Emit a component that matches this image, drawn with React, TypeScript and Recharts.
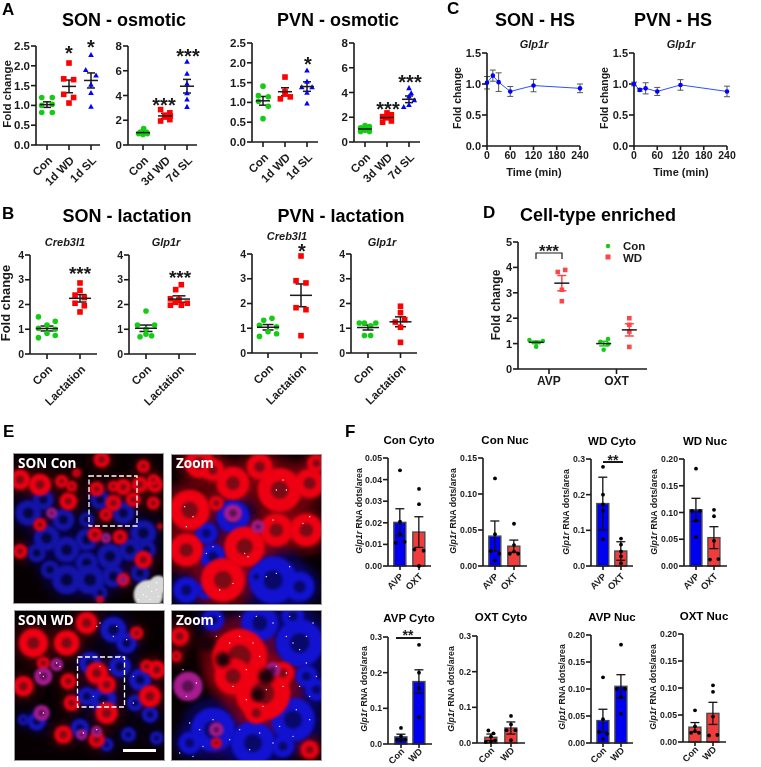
import React from 'react'
import {
  ScatterChart,
  ComposedChart,
  LineChart,
  Scatter,
  Bar,
  Line,
  XAxis,
  YAxis,
  ErrorBar
} from 'recharts'

const FONT = '"Liberation Sans", Arial, sans-serif'
const INK = '#1a1a1a'
const GREEN = '#14cc14'
const RED = '#ff0000'
const BLUE = '#0000ff'
const SOFT_RED = '#ff4545'
const BAR_BLUE = '#0000f0'
const BAR_RED = '#f23c3c'

// panel A, offsets from the group centre + value
const a1Con = [[-0.24, 1.2], [0.24, 1.2], [-0.24, 1.0], [0.24, 1.03], [-0.24, 0.82], [0.24, 0.82]]
const a1Wd = [[0, 2.07], [-0.24, 1.67], [0.21, 1.65], [-0.24, 1.28], [0.21, 1.2], [0, 1.06]]
const a1Sl = [[0, 2.28], [-0.24, 1.9], [0.23, 1.76], [0, 1.53], [0, 1.32], [0, 0.97]]
const a1Mean = [1.02, 1.48, 1.63]
const a1Sem = [0.07, 0.16, 0.19]

const a2Con = [[-0.2, 0.92], [0.2, 0.92], [0.03, 1.32], [-0.12, 1.05], [0.15, 1.05], [0, 0.85]]
const a2Wd = [[-0.2, 2.86], [0.22, 2.6], [-0.2, 1.94], [0.22, 2.05], [0, 2.4], [0, 2.26], [0.24, 2.35]]
const a2Sl = [[0, 6.74], [0, 5.77], [0, 4.96], [0, 4.2], [0, 3.7], [0, 3.1]]
const a2Mean = [1.0, 2.35, 4.75]
const a2Sem = [0.07, 0.2, 0.55]

const a3Con = [[0, 1.41], [-0.21, 1.17], [0.24, 1.14], [-0.21, 1.03], [0.24, 0.9], [0, 0.59]]
const a3Wd = [[0, 1.64], [-0.21, 1.09], [0, 1.21], [0.24, 1.14], [0, 1.28]]
const a3Sl = [[0, 1.81], [0, 1.53], [-0.24, 1.39], [0.23, 1.39], [0, 1.25], [0, 0.98]]
const a3Mean = [1.04, 1.27, 1.4]
const a3Sem = [0.11, 0.1, 0.12]

const a4Con = [[-0.2, 0.85], [0.2, 0.85], [-0.2, 1.15], [0.2, 1.25], [0, 1.33], [0, 0.95]]
const a4Wd = [[-0.2, 1.6], [0.2, 1.7], [-0.2, 2.05], [0.2, 2.2], [0, 2.35], [0, 1.95]]
const a4Sl = [[0, 4.37], [-0.24, 2.85], [0, 3.7], [0.1, 3.95], [0.24, 3.4], [0, 3.0]]
const a4Mean = [1.05, 1.97, 3.45]
const a4Sem = [0.07, 0.12, 0.27]

// panel B
const b1Con = [[-0.26, 1.5], [0.25, 1.32], [0, 1.17], [-0.26, 1.04], [0.25, 1.0], [0, 0.84], [0.25, 0.75], [-0.26, 0.66]]
const b1Lac = [[0, 2.87], [0, 2.57], [-0.15, 2.38], [0.13, 2.28], [-0.15, 2.05], [0.13, 1.95], [0, 1.7]]
const b1Mean = [1.03, 2.25]
const b1Sem = [0.1, 0.15]

const b2Con = [[0, 1.74], [-0.26, 1.17], [0.26, 1.17], [0, 1.0], [-0.18, 0.7], [0.17, 0.74], [0, 0.8]]
const b2Lac = [[0.07, 2.8], [-0.1, 2.6], [-0.26, 2.23], [-0.26, 1.97], [-0.1, 2.09], [0.07, 1.97], [0.25, 2.05], [0, 2.2]]
const b2Mean = [1.04, 2.22]
const b2Sem = [0.13, 0.13]

const b3Con = [[0.12, 1.4], [-0.13, 1.32], [-0.26, 1.12], [0.26, 0.78], [0, 0.86], [-0.26, 0.67], [0.26, 1.06]]
const b3Lac = [[0, 3.92], [-0.15, 2.92], [0.15, 2.83], [-0.15, 1.83], [0.15, 1.75], [0, 0.7]]
const b3Mean = [1.04, 2.33]
const b3Sem = [0.11, 0.46]

const b4Con = [[-0.27, 1.21], [-0.11, 1.21], [0.24, 1.21], [0.08, 1.1], [-0.11, 0.71], [0.08, 0.71]]
const b4Lac = [[0, 1.89], [0, 1.63], [-0.16, 1.25], [0.13, 1.35], [0, 1.04], [0, 0.43]]
const b4Mean = [1.03, 1.26]
const b4Sem = [0.1, 0.2]

// panel C
const hsMinutes = [0, 15, 30, 60, 120, 240]
const sonHs = [1.02, 1.135, 1.03, 0.88, 0.975, 0.93]
const sonHsErr = [0.1, 0.09, 0.15, 0.08, 0.1, 0.07]
const pvnHs = [1.0, 0.905, 0.93, 0.88, 0.985, 0.88]
const pvnHsErr = [0.03, 0.02, 0.09, 0.065, 0.085, 0.085]

// panel D
const dConAvp = [[-0.1, 1.14], [0, 0.88], [0, 1.04], [0.1, 1.1]]
const dWdAvp = [[-0.06, 3.82], [0.05, 3.9], [0, 3.12], [0, 2.67]]
const dConOxt = [[-0.05, 1.07], [0.065, 1.18], [0.065, 0.97], [0, 0.76]]
const dWdOxt = [[0, 2.0], [0, 1.74], [0, 1.47], [0, 0.87]]
const dMean = [1.05, 3.38, 1.0, 1.54]
const dSem = [0.05, 0.3, 0.09, 0.24]

// panel F, bars
const conCytoMean = [0.0202, 0.0157]
const conCytoErr = [0.0063, 0.0071]
const conCytoAvp = [[0, 0.0443], [0, 0.0205], [0, 0.0148], [-0.22, 0.0107], [0.24, 0.0112]]
const conCytoOxt = [[0, 0.0357], [0, 0.0286], [-0.24, 0.0076], [0.24, 0.0071], [0, 0]]

const conNucMean = [0.0415, 0.0275]
const conNucErr = [0.021, 0.0085]
const conNucAvp = [[0, 0.1216], [0, 0.0442], [-0.22, 0.0205], [0.22, 0.017], [0, 0.0075]]
const conNucOxt = [[0, 0.0587], [0, 0.029], [-0.22, 0.017], [0, 0.02], [0.22, 0.017]]

const wdCytoMean = [0.175, 0.042]
const wdCytoErr = [0.074, 0.026]
const wdCytoAvp = [[0, 0.278], [0, 0.2], [0, 0.173], [0, 0.155], [0, 0.075]]
const wdCytoOxt = [[0, 0.077], [0, 0.06], [0, 0.041], [0, 0.027], [0, 0.008]]

const wdNucMean = [0.105, 0.053]
const wdNucErr = [0.0215, 0.0205]
const wdNucAvp = [[0, 0.182], [-0.22, 0.103], [0.22, 0.103], [0, 0.085], [0, 0.054]]
const wdNucOxt = [[0, 0.105], [0, 0.093], [0, 0.047], [-0.22, 0.012], [0.24, 0.013]]

const avpCytoMean = [0.02, 0.175]
const avpCytoErr = [0.0075, 0.033]
const avpCytoCon = [[0, 0.045], [-0.22, 0.012], [0.24, 0.012], [0, 0.022], [0, 0.01]]
const avpCytoWd = [[0, 0.278], [0, 0.2], [0, 0.157], [0, 0.075]]

const oxtCytoMean = [0.016, 0.042]
const oxtCytoErr = [0.009, 0.017]
const oxtCytoCon = [[-0.13, 0.035], [0.12, 0.027], [0, 0.018], [-0.26, 0.003], [0, 0.004], [0.2, 0.007]]
const oxtCytoWd = [[0, 0.076], [0, 0.052], [-0.22, 0.036], [0.22, 0.036], [0, 0.008]]

const avpNucMean = [0.0415, 0.105]
const avpNucErr = [0.021, 0.0215]
const avpNucCon = [[0, 0.1216], [0, 0.0442], [-0.22, 0.0205], [0.22, 0.017], [0, 0.0075]]
const avpNucWd = [[0, 0.182], [-0.22, 0.1], [0.22, 0.1], [0, 0.085], [0, 0.054]]

const oxtNucMean = [0.0275, 0.053]
const oxtNucErr = [0.0085, 0.0205]
const oxtNucCon = [[0, 0.0587], [0, 0.029], [-0.22, 0.017], [0, 0.02], [0.22, 0.017]]
const oxtNucWd = [[0, 0.105], [0, 0.093], [0, 0.047], [-0.22, 0.012], [0.24, 0.013]]

// panel E, cell blobs in crop pixels: x, y, radius
const e1Red = [[60, 210, 28], [120, 225, 30], [185, 215, 18], [230, 190, 12], [305, 150, 22], [370, 232, 22], [420, 225, 22], [465, 225, 22], [430, 170, 18], [290, 238, 20], [340, 280, 22], [318, 315, 18], [285, 375, 20], [360, 382, 20], [205, 275, 24], [120, 345, 18], [60, 425, 20], [430, 450, 24], [370, 510, 18], [300, 570, 10], [400, 270, 20], [460, 280, 18], [340, 230, 15], [480, 350, 8], [215, 230, 15], [460, 210, 15]]
const e1Blue = [[85, 310, 35], [130, 270, 28], [190, 330, 30], [140, 385, 35], [200, 420, 35], [260, 390, 30], [300, 270, 26], [370, 310, 30], [430, 370, 35], [330, 440, 35], [260, 460, 30], [200, 510, 40], [270, 510, 40], [340, 500, 30], [420, 490, 25], [110, 430, 25], [440, 420, 25], [150, 480, 25], [260, 330, 20], [390, 420, 30], [300, 550, 20]]
const e1Pink = [[155, 310, 15], [318, 385, 14], [370, 510, 10]]
const e1Dots = [[445, 530], [455, 545], [430, 555], [470, 520], [415, 570], [450, 570], [475, 560], [470, 540], [440, 560]]
const e1White = [[445, 555, 40], [475, 525, 25]]

const e2Red = [[570, 300, 55], [600, 160, 40], [700, 220, 45], [840, 240, 60], [930, 220, 40], [830, 360, 45], [920, 360, 45], [560, 420, 45], [735, 410, 55], [670, 510, 60], [640, 180, 30], [950, 160, 25], [780, 170, 35], [650, 280, 20]]
const e2Blue = [[640, 440, 35], [700, 320, 45], [620, 370, 30], [820, 510, 65], [900, 530, 40], [560, 540, 35], [770, 500, 20], [620, 540, 25]]
const e2Pink = [[700, 310, 25], [775, 350, 18]]
const e2Dots = [[555, 290], [580, 320], [830, 240], [860, 240], [850, 210], [820, 330], [910, 340], [930, 320], [620, 430], [640, 410], [735, 430], [745, 440], [800, 500], [830, 490], [870, 470], [660, 540], [700, 520], [560, 350]]

const e3Red = [[100, 700, 40], [200, 700, 35], [260, 640, 30], [70, 830, 28], [205, 815, 22], [215, 880, 22], [290, 790, 30], [320, 825, 25], [450, 860, 30], [470, 780, 25], [410, 670, 18], [190, 975, 25], [290, 990, 22], [440, 770, 18], [320, 910, 30], [130, 760, 18]]
const e3Blue = [[340, 660, 35], [380, 700, 28], [270, 760, 30], [360, 770, 30], [420, 810, 30], [310, 870, 35], [405, 880, 22], [450, 915, 22], [110, 935, 25], [385, 975, 20], [320, 1005, 18], [470, 985, 18], [260, 860, 25], [70, 930, 15], [240, 955, 25]]
const e3Pink = [[130, 800, 25], [170, 765, 18], [125, 910, 22], [245, 975, 15], [290, 965, 15]]
const e3Dots = [[290, 650], [300, 640], [340, 680], [380, 690], [350, 650], [170, 760], [130, 800], [120, 790], [300, 770], [330, 780], [400, 800], [280, 860], [310, 880], [130, 910], [250, 970], [290, 960], [400, 880], [360, 740], [180, 770]]

const e4Red = [[720, 740, 75], [790, 850, 75], [700, 800, 50], [850, 790, 30], [540, 680, 25], [770, 910, 30], [930, 1020, 25], [650, 1000, 15], [530, 740, 15]]
const e4Blue = [[640, 960, 60], [760, 1000, 60], [880, 930, 60], [900, 700, 65], [780, 640, 50], [640, 630, 30], [950, 840, 30], [850, 1010, 30], [570, 1000, 30], [920, 800, 30], [880, 620, 30]]
const e4Pink = [[565, 830, 40], [650, 960, 20], [820, 780, 20]]
const e4Dark = [[670, 750, 20], [800, 800, 22], [775, 855, 18], [620, 700, 22]]
const e4Dots = [[650, 680], [690, 700], [720, 680], [760, 700], [780, 740], [740, 780], [700, 830], [830, 770], [860, 790], [850, 830], [800, 840], [740, 870], [790, 890], [860, 680], [880, 700], [900, 720], [920, 680], [940, 640], [820, 640], [770, 620], [870, 620], [920, 760], [950, 800], [930, 860], [890, 900], [840, 950], [780, 970], [720, 960], [690, 990], [640, 930], [600, 960], [570, 940], [610, 1010], [750, 1020], [820, 1000], [880, 980], [930, 930], [550, 780], [590, 820], [560, 860], [540, 1030], [580, 1040], [660, 620], [720, 620], [900, 830]]

const toPoints = (centre: number, rows: number[][]) =>
  rows.map(([offset, value]) => ({ x: centre + offset, y: value }))
const toBlobs = (rows: number[][]) => rows.map(([x, y, r]) => ({ x, y, r: r || 1 }))

const markerShape = (kind: string, color: string, size: number) => (props: any) => {
  const { cx, cy } = props
  if (kind === 'circle') return <circle cx={cx} cy={cy} r={size} fill={color} />
  if (kind === 'square') return <rect x={cx - size} y={cy - size} width={size * 2} height={size * 2} fill={color} />
  return <polygon points={`${cx},${cy - size} ${cx + size},${cy + size * 0.8} ${cx - size},${cy + size * 0.8}`} fill={color} />
}

const meanShape = (half: number) => (props: any) => (
  <line x1={props.cx - half} x2={props.cx + half} y1={props.cy} y2={props.cy} stroke={INK} strokeWidth={1.5} />
)

const angledTick = (labels: string[], fontSize: number, dx: number, dy: number) => (props: any) => {
  const { x, y, payload } = props
  const px = x + dx
  const py = y + dy
  return (
    <text x={px} y={py} textAnchor='end' fontSize={fontSize} fontWeight='bold' fontFamily={FONT} fill={INK}
      transform={`rotate(-45 ${px} ${py})`}>
      {labels[Math.round(payload.value)]}
    </text>
  )
}

const AXIS_W = 60
const AXIS_H = 62
const PAD = 10

interface FrameBox { x0: number; x1: number; top: number; bottom: number }

const wrapStyle = (b: FrameBox): React.CSSProperties => ({
  position: 'absolute',
  left: b.x0 - AXIS_W,
  top: b.top - PAD
})
const sizeOf = (b: FrameBox) => ({
  width: b.x1 - b.x0 + AXIS_W + PAD,
  height: b.bottom - b.top + AXIS_H + PAD
})
const chartMargin = { top: PAD, right: PAD, left: 0, bottom: 0 }
const axisProps = {
  axisLine: { stroke: INK, strokeWidth: 1.6 },
  tickLine: { stroke: INK, strokeWidth: 1.6 },
  interval: 0 as const
}

interface Group { at: number; rows: number[][]; mean: number; sem: number; kind: string; color: string; errColor?: string }

const DotPlot = ({ box, c0, unit, labels, groups, yMax, yTicks, digits, fontSize = 11.5, meanHalf = 7, cap = 4, size = 2.8, tickFont = 11.5, angled = true }: any) => {
  const { width, height } = sizeOf(box)
  const xDomain = [(box.x0 - c0) / unit, (box.x1 - c0) / unit]
  return (
    <div style={wrapStyle(box)}>
      <ScatterChart width={width} height={height} margin={chartMargin}>
        <XAxis
          type='number'
          dataKey='x'
          domain={xDomain}
          ticks={labels.map((_: string, i: number) => i)}
          tickSize={5}
          height={AXIS_H}
          {...axisProps}
          tick={angled
            ? angledTick(labels, tickFont, 6, 9)
            : { fontSize: tickFont, fontWeight: 'bold', fontFamily: FONT, fill: INK }}
          tickFormatter={(v: number) => labels[Math.round(v)]}
        />
        <YAxis
          type='number'
          dataKey='y'
          domain={[0, yMax]}
          ticks={yTicks}
          width={AXIS_W}
          tickSize={5}
          tickMargin={1}
          {...axisProps}
          tick={{ fontSize, fontWeight: 'bold', fontFamily: FONT, fill: INK }}
          tickFormatter={(v: number) => v.toFixed(digits)}
        />
        {groups.map((g: Group, i: number) => (
          <Scatter key={`p${i}`} data={toPoints(g.at, g.rows)} isAnimationActive={false} shape={markerShape(g.kind, g.color, size)} />
        ))}
        {groups.map((g: Group, i: number) => (
          <Scatter key={`m${i}`} data={[{ x: g.at, y: g.mean, err: g.sem }]} isAnimationActive={false} shape={meanShape(meanHalf)}>
            <ErrorBar dataKey='err' direction='y' width={cap} stroke={g.errColor || INK} strokeWidth={1.5} isAnimationActive={false} />
          </Scatter>
        ))}
      </ScatterChart>
    </div>
  )
}

const threeGroups = (rows: number[][][], mean: number[], sem: number[]): Group[] => {
  const kinds = ['circle', 'square', 'triangle']
  const colors = [GREEN, RED, BLUE]
  return rows.map((r, i) => ({ at: i, rows: r, mean: mean[i], sem: sem[i], kind: kinds[i], color: colors[i] }))
}

const osmoticLabelsA = ['Con', '1d WD', '1d SL']
const osmoticLabelsB = ['Con', '3d WD', '7d SL']
const lactationLabels = ['Con', 'Lactation']
const cellLabels = ['AVP', 'OXT']
const barLabelsCell = ['AVP', 'OXT']
const barLabelsTreat = ['Con', 'WD']

const TimePlot = ({ box, values, errors }: any) => {
  const { width, height } = sizeOf(box)
  const data = hsMinutes.map((m, i) => ({ x: m, y: values[i], err: errors[i] }))
  return (
    <div style={wrapStyle(box)}>
      <LineChart width={width} height={height} margin={chartMargin} data={data}>
        <XAxis type='number' dataKey='x' domain={[0, 240]} ticks={[0, 60, 120, 180, 240]} tickSize={4} height={AXIS_H}
          {...axisProps} tick={{ fontSize: 10.5, fontWeight: 'bold', fontFamily: FONT, fill: INK }} />
        <YAxis type='number' domain={[0, 1.5]} ticks={[0, 0.5, 1, 1.5]} width={AXIS_W} tickSize={5} tickMargin={1}
          {...axisProps} tick={{ fontSize: 11, fontWeight: 'bold', fontFamily: FONT, fill: INK }}
          tickFormatter={(v: number) => v.toFixed(1)} />
        <Line dataKey='y' stroke='#3050ff' strokeWidth={1} isAnimationActive={false}
          dot={(p: any) => <circle key={p.index} cx={p.cx} cy={p.cy} r={2.3} fill={BLUE} />}>
          <ErrorBar dataKey='err' direction='y' width={3} stroke='#555' strokeWidth={1} isAnimationActive={false} />
        </Line>
      </LineChart>
    </div>
  )
}

const barShape = (colors: string[]) => (props: any) => {
  const { x, y, width, height, index } = props
  const mid = x + width / 2
  return <rect x={mid - 6} y={y} width={12} height={height} fill={colors[index]} stroke='#4a4a4a' strokeWidth={1.4} />
}

const BarPlot = ({ box, c0, c1, labels, mean, err, rows, yMax, yTicks, digits, colors, tickFont = 9.3, tickDy = 5 }: any) => {
  const { width, height } = sizeOf(box)
  const unit = c1 - c0
  const xDomain = [(box.x0 - c0) / unit, (box.x1 - c0) / unit]
  const data = mean.map((m: number, i: number) => ({ x: i, y: m, err: err[i] }))
  return (
    <div style={wrapStyle(box)}>
      <ComposedChart width={width} height={height} margin={chartMargin} data={data}>
        <XAxis type='number' dataKey='x' domain={xDomain} ticks={[0, 1]} tickSize={4} height={AXIS_H}
          {...axisProps} tick={angledTick(labels, tickFont, 4, tickDy)} />
        <YAxis type='number' dataKey='y' domain={[0, yMax]} ticks={yTicks} width={AXIS_W} tickSize={5} tickMargin={1}
          {...axisProps} tick={{ fontSize: 8.7, fontWeight: 'bold', fontFamily: FONT, fill: INK }}
          tickFormatter={(v: number) => v.toFixed(digits)} />
        <Bar dataKey='y' isAnimationActive={false} shape={barShape(colors)}>
          <ErrorBar dataKey='err' direction='y' width={4.5} stroke='#111' strokeWidth={1.3} isAnimationActive={false} />
        </Bar>
        {rows.map((r: number[][], i: number) => (
          <Scatter key={i} data={toPoints(i, r)} isAnimationActive={false} shape={markerShape('circle', '#000', 1.9)} />
        ))}
      </ComposedChart>
    </div>
  )
}

const blobShape = (color: string, core: string | null, blur: number) => (props: any) => {
  const { cx, cy, payload } = props
  const r = payload.r / 3
  return (
    <g style={{ filter: `blur(${blur}px)` }}>
      <circle cx={cx} cy={cy} r={r * 1.1} fill={color} />
      {core ? <circle cx={cx} cy={cy} r={r * 0.45} fill={core} /> : null}
    </g>
  )
}
const haloShape = (color: string, strength: number) => (props: any) => (
  <circle cx={props.cx} cy={props.cy} r={(props.payload.r / 3) * 1.6} fill={color} opacity={strength} style={{ filter: 'blur(5px)' }} />
)
const speckShape = (props: any) => <circle cx={props.cx} cy={props.cy} r={0.7} fill='#fff' />
const darkShape = blobShape('#1c000a', null, 2.2)

const Micrograph = ({ left, top, xDomain, yDomain, red, blue, pink, dots, white, dark, blueFill = '#1212d0', blueCore = '#08086a', halo = 0.55 }: any) => (
  <div style={{ position: 'absolute', left, top, width: 149, height: 149, background: '#070003', outline: '1px solid #9a9a9a', overflow: 'hidden' }}>
    <ScatterChart width={149} height={149} margin={{ top: 0, right: 0, bottom: 0, left: 0 }}>
      <XAxis type='number' dataKey='x' domain={xDomain} hide />
      <YAxis type='number' dataKey='y' domain={yDomain} reversed hide />
      <Scatter data={toBlobs(blue)} isAnimationActive={false} shape={haloShape('#0a0a90', halo)} />
      <Scatter data={toBlobs(red)} isAnimationActive={false} shape={haloShape('#a00010', halo)} />
      <Scatter data={toBlobs(blue)} isAnimationActive={false} shape={blobShape(blueFill, blueCore, 1.8)} />
      <Scatter data={toBlobs(red)} isAnimationActive={false} shape={blobShape('#ee0012', '#7a0a14', 1.8)} />
      <Scatter data={toBlobs(pink)} isAnimationActive={false} shape={blobShape('#a81c90', '#5a1050', 1.8)} />
      {dark ? <Scatter data={toBlobs(dark)} isAnimationActive={false} shape={darkShape} /> : null}
      {white ? <Scatter data={toBlobs(white)} isAnimationActive={false} shape={blobShape('#d8d8d8', null, 1)} /> : null}
      <Scatter data={toBlobs(dots)} isAnimationActive={false} shape={speckShape} />
    </ScatterChart>
  </div>
)

const Txt = ({ x, y, size, children, italic, anchor = 'middle', rotate, fill = INK, family = FONT }: any) => (
  <text x={x} y={y} fontSize={size} fontWeight='bold' fontStyle={italic ? 'italic' : 'normal'} textAnchor={anchor}
    fontFamily={family} fill={fill} transform={rotate ? `rotate(-90 ${x} ${y})` : undefined}>
    {children}
  </text>
)

const Stars = ({ x, y, text, size }: any) => (
  <text x={x} y={y + size / 2} fontSize={size} fontWeight='bold' textAnchor='middle' fontFamily={FONT} fill={INK}>{text}</text>
)

const RnaLabel = ({ x, y }: any) => (
  <Txt x={x} y={y} size={8.8} rotate>
    <tspan fontStyle='italic'>Glp1r</tspan> RNA dots/area
  </Txt>
)

const panelLetters = [['A', 2, 15], ['C', 447, 14], ['B', 2, 219], ['D', 483, 218], ['E', 3, 437], ['F', 345, 437]]
const mainTitles = [
  ['SON - osmotic', 124, 26], ['PVN - osmotic', 338, 26], ['SON - HS', 535, 26], ['PVN - HS', 673, 26],
  ['SON - lactation', 127, 222], ['PVN - lactation', 341, 222], ['Cell-type enriched', 598, 221]
]
const barTitles = [
  ['Con Cyto', 409, 444], ['Con Nuc', 505, 444], ['WD Cyto', 612, 445], ['WD Nuc', 705, 445],
  ['AVP Cyto', 409, 622], ['OXT Cyto', 501, 621], ['AVP Nuc', 612, 621], ['OXT Nuc', 704, 620]
]
const geneTitles = [
  ['Glp1r', 534, 48], ['Glp1r', 681, 48], ['Creb3l1', 65, 246], ['Glp1r', 166, 246], ['Creb3l1', 287, 240], ['Glp1r', 382, 246]
]
const foldLabels = [[11, 94, 11.5], [461, 98, 10.5], [608, 98, 10.5], [10, 303, 13], [500, 305, 12]]
const rnaLabels = [[362, 511], [456, 511], [569, 512], [657, 512], [367, 689], [454, 689], [565, 687], [656, 687]]
const starMarks = [
  [69, 50, '*', 20], [91, 44, '*', 20], [164, 102, '***', 20], [188, 53, '***', 20], [308, 61, '*', 20], [388, 106, '***', 20], [410, 79, '***', 20],
  [80, 270, '***', 19], [180, 274, '***', 19], [302, 248, '*', 20], [549, 248, '***', 17], [613, 458, '**', 14], [408, 633, '**', 14]
]

export default function App() {
  return (
    <div style={{ position: 'absolute', left: 0, top: 0, width: 761, height: 767, background: '#fff', filter: 'blur(0.35px)', overflow: 'hidden' }}>
      <DotPlot box={{ x0: 36, x1: 100, top: 46, bottom: 145 }} c0={47} unit={22} labels={osmoticLabelsA}
        groups={threeGroups([a1Con, a1Wd, a1Sl], a1Mean, a1Sem)} yMax={2.5} yTicks={[0, 0.5, 1, 1.5, 2, 2.5]} digits={1} />
      <DotPlot box={{ x0: 128, x1: 197, top: 46, bottom: 145 }} c0={143} unit={22} labels={osmoticLabelsB}
        groups={threeGroups([a2Con, a2Wd, a2Sl], a2Mean, a2Sem)} yMax={8} yTicks={[0, 2, 4, 6, 8]} digits={0} />
      <DotPlot box={{ x0: 252, x1: 318, top: 43, bottom: 142 }} c0={263} unit={22} labels={osmoticLabelsA}
        groups={threeGroups([a3Con, a3Wd, a3Sl], a3Mean, a3Sem)} yMax={2.5} yTicks={[0, 0.5, 1, 1.5, 2, 2.5]} digits={1} />
      <DotPlot box={{ x0: 354, x1: 420, top: 43, bottom: 142 }} c0={365} unit={22} labels={osmoticLabelsB}
        groups={threeGroups([a4Con, a4Wd, a4Sl], a4Mean, a4Sem)} yMax={8} yTicks={[0, 2, 4, 6, 8]} digits={0} />

      <TimePlot box={{ x0: 487, x1: 580, top: 53, bottom: 146 }} values={sonHs} errors={sonHsErr} />
      <TimePlot box={{ x0: 634, x1: 727, top: 53, bottom: 146 }} values={pvnHs} errors={pvnHsErr} />

      <DotPlot box={{ x0: 30, x1: 97, top: 255, bottom: 354 }} c0={47} unit={33} labels={lactationLabels}
        groups={threeGroups([b1Con, b1Lac], b1Mean, b1Sem)} yMax={4} yTicks={[0, 1, 2, 3, 4]} digits={0} meanHalf={11} cap={6.5} fontSize={10.5} />
      <DotPlot box={{ x0: 129, x1: 196, top: 255, bottom: 354 }} c0={146} unit={33} labels={lactationLabels}
        groups={threeGroups([b2Con, b2Lac], b2Mean, b2Sem)} yMax={4} yTicks={[0, 1, 2, 3, 4]} digits={0} meanHalf={11} cap={6.5} fontSize={10.5} />
      <DotPlot box={{ x0: 252, x1: 318, top: 254, bottom: 353 }} c0={268} unit={33} labels={lactationLabels}
        groups={threeGroups([b3Con, b3Lac], b3Mean, b3Sem)} yMax={4} yTicks={[0, 1, 2, 3, 4]} digits={0} meanHalf={11} cap={5.5} fontSize={10.5} />
      <DotPlot box={{ x0: 351, x1: 417, top: 254, bottom: 353 }} c0={368} unit={32.5} labels={lactationLabels}
        groups={threeGroups([b4Con, b4Lac], b4Mean, b4Sem)} yMax={4} yTicks={[0, 1, 2, 3, 4]} digits={0} meanHalf={11} cap={5.5} fontSize={10.5} />

      <DotPlot box={{ x0: 518, x1: 647, top: 242, bottom: 369 }} c0={549} unit={67.5} labels={cellLabels} angled={false} tickFont={12}
        groups={[
          { at: -0.19, rows: dConAvp, mean: dMean[0], sem: dSem[0], kind: 'circle', color: GREEN, errColor: GREEN },
          { at: 0.19, rows: dWdAvp, mean: dMean[1], sem: dSem[1], kind: 'square', color: SOFT_RED, errColor: SOFT_RED },
          { at: 0.81, rows: dConOxt, mean: dMean[2], sem: dSem[2], kind: 'circle', color: GREEN, errColor: GREEN },
          { at: 1.19, rows: dWdOxt, mean: dMean[3], sem: dSem[3], kind: 'square', color: SOFT_RED, errColor: SOFT_RED }
        ]} yMax={5} yTicks={[0, 1, 2, 3, 4, 5]} digits={0} meanHalf={7.5} cap={4.5} size={2.3} fontSize={11} />

      <BarPlot box={{ x0: 388, x1: 431, top: 458, bottom: 566 }} c0={400} c1={419} labels={barLabelsCell} mean={conCytoMean} err={conCytoErr}
        rows={[conCytoAvp, conCytoOxt]} yMax={0.05} yTicks={[0, 0.01, 0.02, 0.03, 0.04, 0.05]} digits={2} colors={[BAR_BLUE, BAR_RED]} />
      <BarPlot box={{ x0: 483, x1: 527, top: 458, bottom: 566 }} c0={495} c1={514} labels={barLabelsCell} mean={conNucMean} err={conNucErr}
        rows={[conNucAvp, conNucOxt]} yMax={0.15} yTicks={[0, 0.05, 0.1, 0.15]} digits={2} colors={[BAR_BLUE, BAR_RED]} />
      <BarPlot box={{ x0: 591, x1: 633, top: 459, bottom: 566 }} c0={603} c1={621} labels={barLabelsCell} mean={wdCytoMean} err={wdCytoErr}
        rows={[wdCytoAvp, wdCytoOxt]} yMax={0.3} yTicks={[0, 0.1, 0.2, 0.3]} digits={1} colors={[BAR_BLUE, BAR_RED]} />
      <BarPlot box={{ x0: 684, x1: 727, top: 459, bottom: 566 }} c0={696} c1={714} labels={barLabelsCell} mean={wdNucMean} err={wdNucErr}
        rows={[wdNucAvp, wdNucOxt]} yMax={0.2} yTicks={[0, 0.05, 0.1, 0.15, 0.2]} digits={2} colors={[BAR_BLUE, BAR_RED]} />
      <BarPlot box={{ x0: 388, x1: 432, top: 637, bottom: 744 }} c0={401} c1={419} labels={barLabelsTreat} mean={avpCytoMean} err={avpCytoErr} tickFont={9.2} tickDy={2}
        rows={[avpCytoCon, avpCytoWd]} yMax={0.3} yTicks={[0, 0.1, 0.2, 0.3]} digits={1} colors={[BAR_BLUE, BAR_BLUE]} />
      <BarPlot box={{ x0: 477, x1: 525, top: 636, bottom: 743 }} c0={491} c1={511} labels={barLabelsTreat} mean={oxtCytoMean} err={oxtCytoErr} tickFont={9.2} tickDy={2}
        rows={[oxtCytoCon, oxtCytoWd]} yMax={0.3} yTicks={[0, 0.1, 0.2, 0.3]} digits={1} colors={[BAR_RED, BAR_RED]} />
      <BarPlot box={{ x0: 591, x1: 633, top: 635, bottom: 743 }} c0={603} c1={621} labels={barLabelsTreat} mean={avpNucMean} err={avpNucErr} tickFont={9.2} tickDy={2}
        rows={[avpNucCon, avpNucWd]} yMax={0.2} yTicks={[0, 0.05, 0.1, 0.15, 0.2]} digits={2} colors={[BAR_BLUE, BAR_BLUE]} />
      <BarPlot box={{ x0: 683, x1: 726, top: 634, bottom: 742 }} c0={695} c1={713} labels={barLabelsTreat} mean={oxtNucMean} err={oxtNucErr} tickFont={9.2} tickDy={2}
        rows={[oxtNucCon, oxtNucWd]} yMax={0.2} yTicks={[0, 0.05, 0.1, 0.15, 0.2]} digits={2} colors={[BAR_RED, BAR_RED]} />

      <Micrograph left={14} top={454} xDomain={[42, 489]} yDomain={[133, 580]} red={e1Red} blue={e1Blue} pink={e1Pink} dots={e1Dots} white={e1White}
        blueFill='#1414a8' blueCore='#050540' halo={0.3} />
      <Micrograph left={172} top={455} xDomain={[517, 964]} yDomain={[135, 582]} red={e2Red} blue={e2Blue} pink={e2Pink} dots={e2Dots} />
      <Micrograph left={15} top={611} xDomain={[45, 492]} yDomain={[604, 1051]} red={e3Red} blue={e3Blue} pink={e3Pink} dots={e3Dots}
        blueFill='#1616c0' blueCore='#060650' halo={0.3} />
      <Micrograph left={172} top={611} xDomain={[517, 964]} yDomain={[604, 1051]} red={e4Red} blue={e4Blue} pink={e4Pink} dots={e4Dots} dark={e4Dark} />

      <svg width={761} height={767} style={{ position: 'absolute', left: 0, top: 0, pointerEvents: 'none' }}>
        {panelLetters.map(([t, x, y]: any) => <Txt key={t} x={x} y={y} size={17} anchor='start' fill='#000'>{t}</Txt>)}
        {mainTitles.map(([t, x, y]: any) => <Txt key={t} x={x} y={y} size={18} fill='#000'>{t}</Txt>)}
        {barTitles.map(([t, x, y]: any) => <Txt key={t} x={x} y={y} size={11.5} fill='#000'>{t}</Txt>)}
        {geneTitles.map(([t, x, y]: any, i: number) => <Txt key={i} x={x} y={y} size={11} italic>{t}</Txt>)}
        {foldLabels.map(([x, y, s]: any, i: number) => <Txt key={i} x={x} y={y} size={s} rotate>Fold change</Txt>)}
        {rnaLabels.map(([x, y]: any, i: number) => <RnaLabel key={i} x={x} y={y} />)}
        {starMarks.map(([x, y, t, s]: any, i: number) => <Stars key={i} x={x} y={y} text={t} size={s} />)}
        <Txt x={534} y={176} size={11}>Time (min)</Txt>
        <Txt x={681} y={176} size={11}>Time (min)</Txt>

        <polyline points='536,259 536,253 562,253 562,259' fill='none' stroke={INK} strokeWidth={1.2} />
        <line x1={603} x2={623} y1={462} y2={462} stroke={INK} strokeWidth={2} />
        <line x1={396} x2={421} y1={638} y2={638} stroke={INK} strokeWidth={2} />

        <circle cx={608} cy={246} r={2.2} fill={GREEN} />
        <rect x={605.5} y={254.5} width={5} height={5} fill={SOFT_RED} />
        <Txt x={623} y={250} size={11.5} anchor='start'>Con</Txt>
        <Txt x={623} y={262} size={11.5} anchor='start'>WD</Txt>

        <Txt x={18} y={468} size={13.5} anchor='start' fill='#fff' family='"Open Sans", sans-serif'>SON Con</Txt>
        <Txt x={176} y={468} size={13.5} anchor='start' fill='#fff' family='"Open Sans", sans-serif'>Zoom</Txt>
        <Txt x={18} y={625} size={13.5} anchor='start' fill='#fff' family='"Open Sans", sans-serif'>SON WD</Txt>
        <Txt x={176} y={625} size={13.5} anchor='start' fill='#fff' family='"Open Sans", sans-serif'>Zoom</Txt>
        <rect x={89} y={476} width={48} height={50} fill='none' stroke='#fff' strokeWidth={1.3} strokeDasharray='5 2.5' />
        <rect x={77.5} y={657} width={47} height={50} fill='none' stroke='#fff' strokeWidth={1.3} strokeDasharray='5 2.5' />
        <rect x={123} y={749} width={33} height={3} fill='#fff' />
      </svg>
    </div>
  )
}
